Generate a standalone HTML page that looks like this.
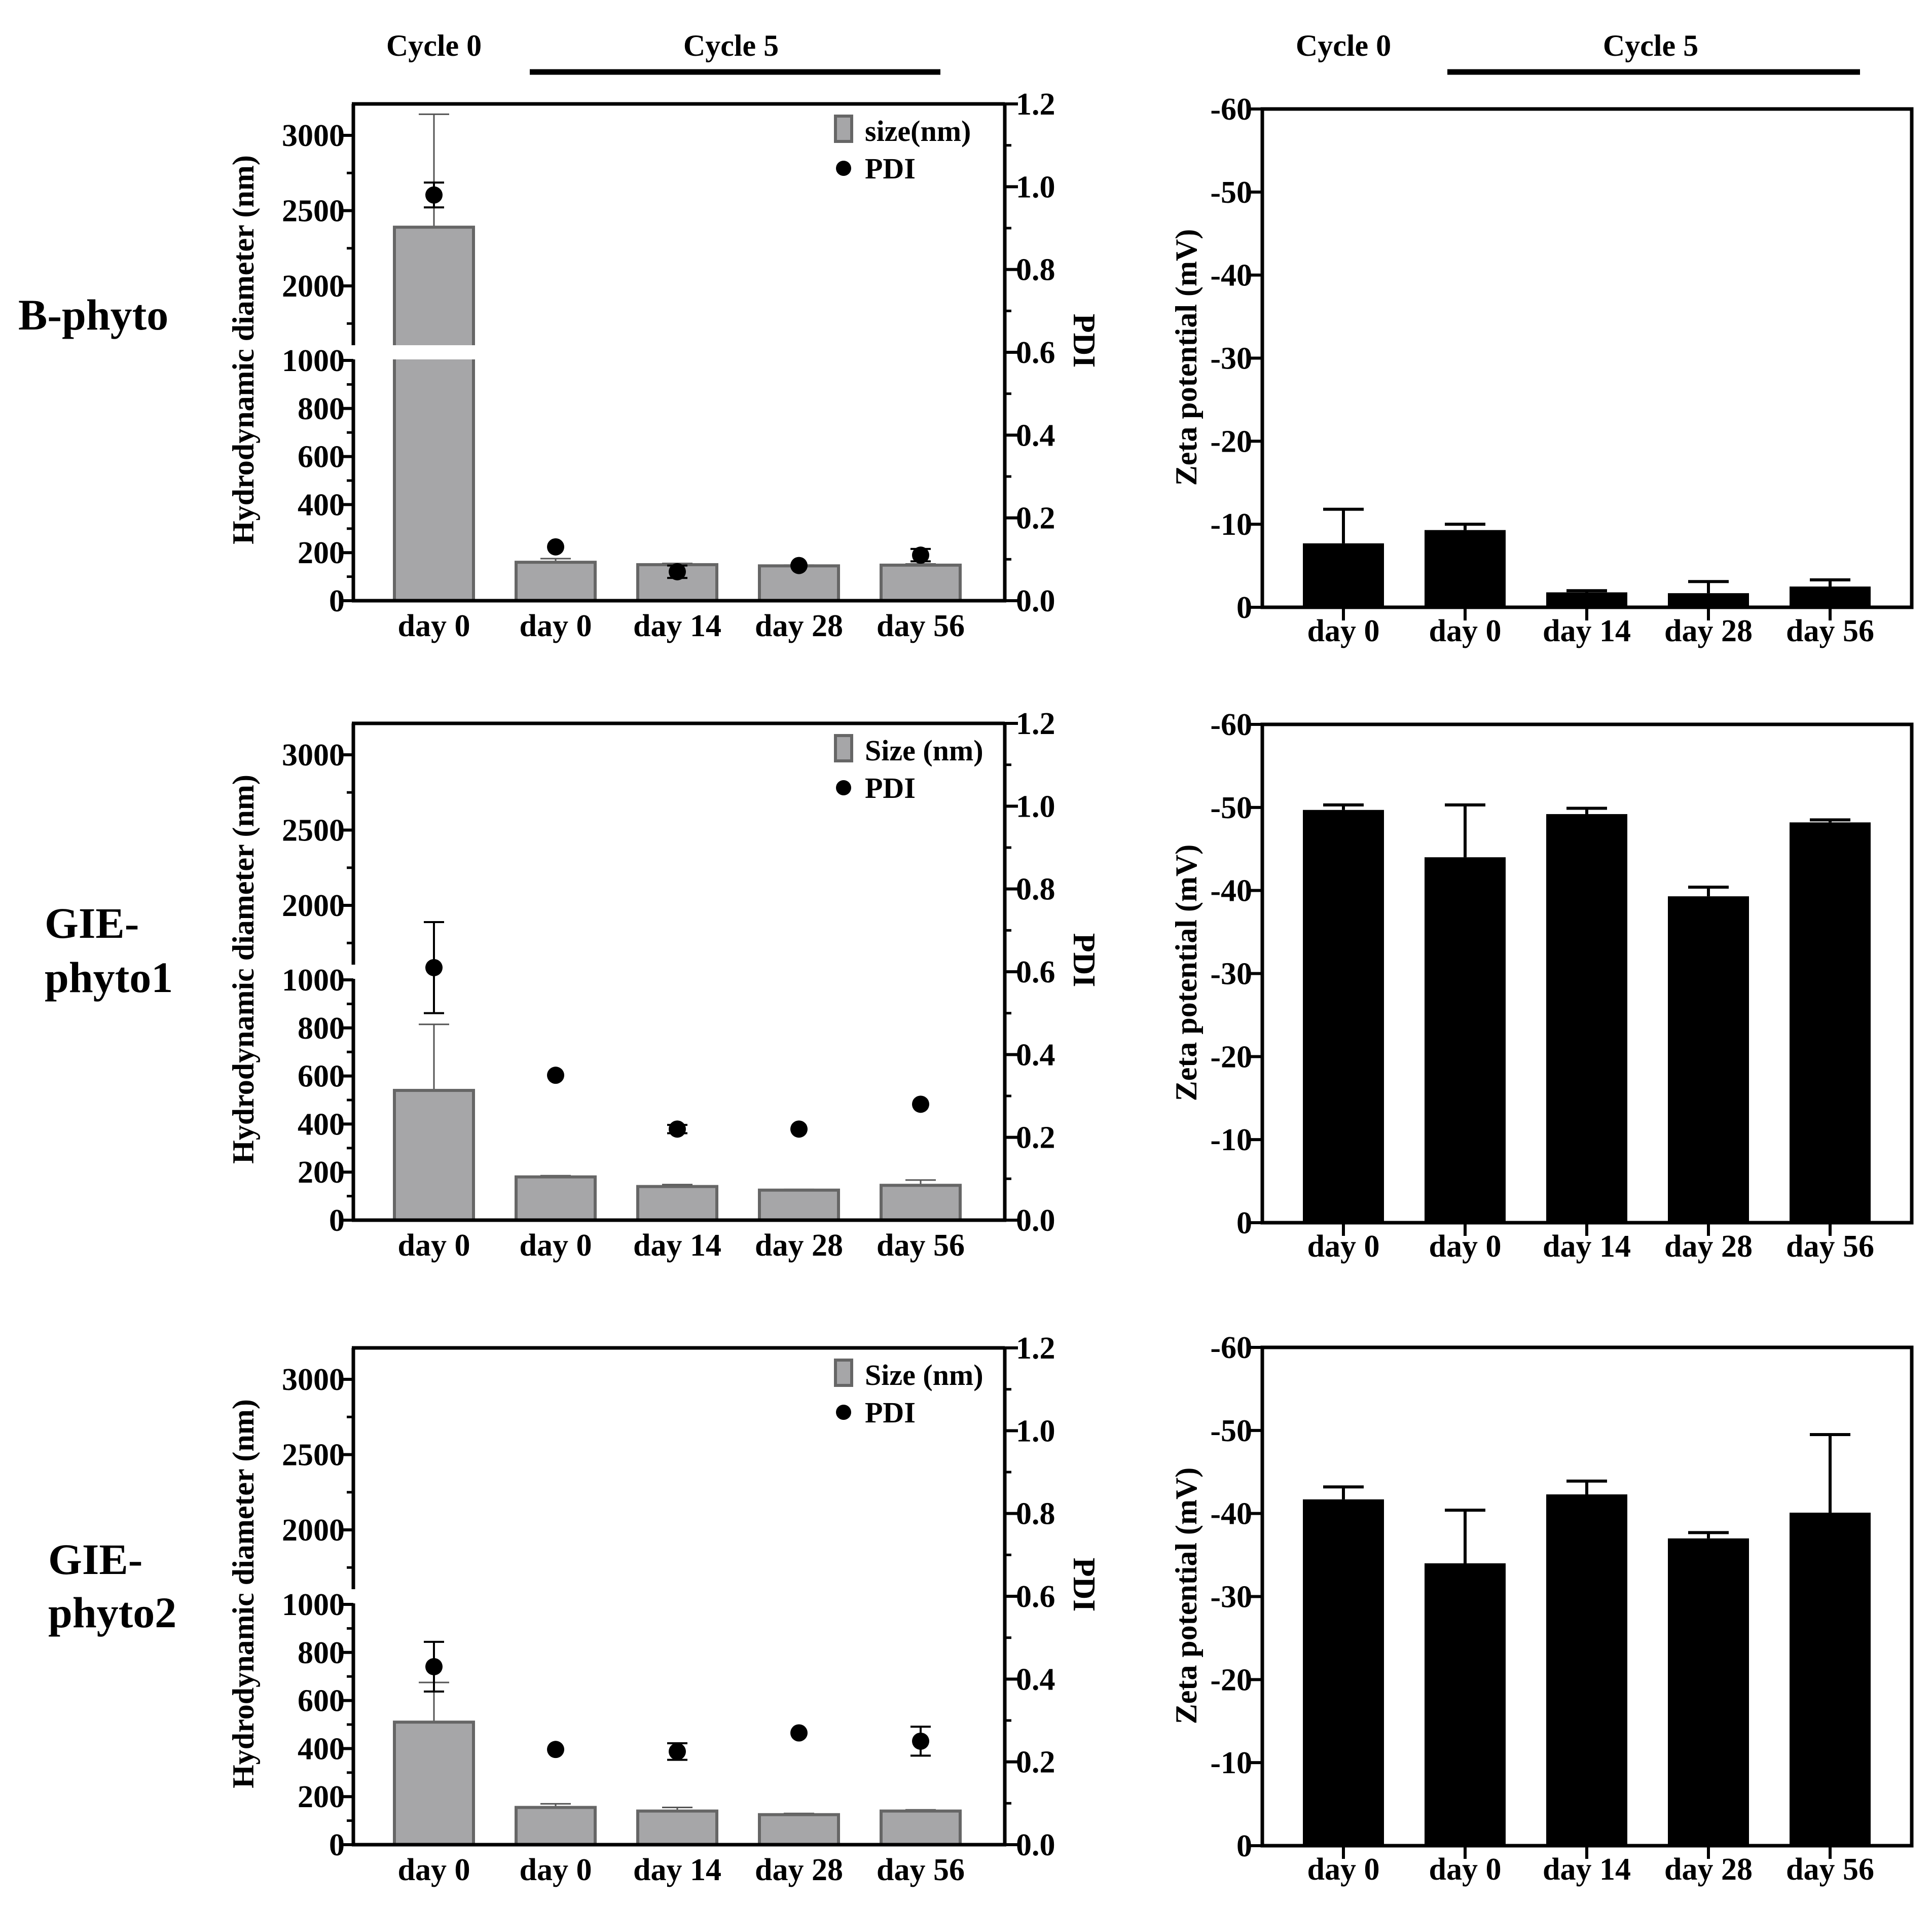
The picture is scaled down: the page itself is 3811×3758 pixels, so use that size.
<!DOCTYPE html>
<html><head><meta charset="utf-8"><style>
html,body{margin:0;padding:0;background:#fff}
svg{display:block}
text{font-family:"Liberation Serif",serif;font-weight:bold;fill:#000}
</style></head><body>
<svg id="fig" width="3811" height="3758" viewBox="0 0 3811 3758" xmlns="http://www.w3.org/2000/svg"></svg>
<script>
const categories = ["day 0","day 0","day 14","day 28","day 56"];
const rowNames = [["B-phyto"],["GIE-","phyto1"],["GIE-","phyto2"]];
const legendSize = ["size(nm)","Size (nm)","Size (nm)"];
const sizeVals = [[2390,160,150,145,148],[540,180,140,125,145],[510,155,140,125,140]];
const sizeErr = [[750,15,5,3,5],[275,5,8,3,22],[165,15,15,5,5]];
const pdiVals = [[0.98,0.13,0.07,0.085,0.11],[0.61,0.35,0.22,0.22,0.28],[0.43,0.23,0.225,0.27,0.25]];
const pdiErr = [[0.03,0,0.015,0,0.015],[0.11,0,0.01,0,0],[0.06,0,0.02,0,0.035]];
const zetaVals = [[7.7,9.3,1.8,1.7,2.5],[49.7,44,49.2,39.3,48.2],[41.7,34,42.3,37,40.1]];
const zetaErr = [[4.1,0.7,0.2,1.4,0.8],[0.6,6.3,0.7,1.1,0.3],[1.5,6.4,1.6,0.7,9.4]];
const lowTicks = [0,200,400,600,800,1000];
const highTicks = [2000,2500,3000];
const pdiTicks = [0,0.2,0.4,0.6,0.8,1.0,1.2];
const zetaTicks = [0,-10,-20,-30,-40,-50,-60];

const svg = document.getElementById('fig');
const NS = "http://www.w3.org/2000/svg";
function mk(tag, attrs, parent, txt){
  const e = document.createElementNS(NS, tag);
  for (const k in attrs) e.setAttribute(k, attrs[k]);
  if (txt !== undefined) e.textContent = txt;
  (parent||svg).appendChild(e);
  return e;
}
function line(x1,y1,x2,y2,stroke,w,p){return mk('line',{x1,y1,x2,y2,stroke,'stroke-width':w},p);}

const hdr = mk('g',{});


[[856,'Cycle 0'],[1442,'Cycle 5'],[2650,'Cycle 0'],[3256,'Cycle 5']].forEach(([x,t])=>{
  const e = mk('text',{x,y:110,'font-size':60,'text-anchor':'middle'},hdr,t);
  
  
});
line(1045,142,1855,142,'#000',11,hdr);
line(2855,142,3669,142,'#000',11,hdr);

const lDy = [0,1222,2454], rDy = [0,1214,2443];
for (let r=0;r<3;r++){
  const lab = mk('g',{});
  
  
  rowNames[r].forEach((t,i)=>{
    const x = r===0?36:(r===1?88:95);
    const yy = r===0?650:[[0,0],[1850,1957],[3105,3210]][r][i];
    mk('text',{x,y:yy,'font-size':86},lab,t);
  });

  const dy = lDy[r];
  const g = mk('g',{transform:`translate(0,${dy})`});
  
  
  const L=697, R=1982, T=205, B=1185, breakTop=681, breakBot=709;
  const ys = v => v<=1000 ? B - v*0.474 : 564 - (v-2000)*0.297;
  const yp = v => B - v*(B-T)/1.2;
  const xc = i => 856 + i*240;
  for (let i=0;i<5;i++){
    const v=sizeVals[r][i], e=sizeErr[r][i];
    const x=xc(i);
    const er = mk('g',{},g);
    
    
    line(x,ys(v+e),x,ys(Math.max(v-e,0)),'#555',3,er);
    line(x-30,ys(v+e),x+30,ys(v+e),'#555',3,er);
    if (e>20) line(x-30,ys(v-e),x+30,ys(v-e),'#555',3,er);
    const b = mk('rect',{x:x-78,y:ys(v),width:156,height:B-ys(v),fill:'#a6a6a8',stroke:'#666',"stroke-width":6},g);
    
    
    if (v>1000){ mk('rect',{x:x-85,y:breakTop,width:170,height:breakBot-breakTop,fill:'#fff'},g); }
  }
  for (let i=0;i<5;i++){
    const v=pdiVals[r][i], e=pdiErr[r][i], x=xc(i);
    if (e>0){
      line(x,yp(v+e),x,yp(v-e),'#000',4,g);
      line(x-20,yp(v+e),x+20,yp(v+e),'#000',4,g);
      line(x-20,yp(v-e),x+20,yp(v-e),'#000',4,g);
    }
    const c = mk('circle',{cx:x,cy:yp(v),r:17,fill:'#000'},g);
    
    
  }
  const ax = mk('g',{},g);
  
  
  line(L,T,L,breakTop,'#000',7,ax);
  line(L,breakBot,L,B+3,'#000',7,ax);
  line(L-3,T,R,T,'#000',7,g);
  line(L-3,B,R+3,B,'#000',7,g);
  line(R,T-3,R,B,'#000',7,g);
  lowTicks.forEach(v=>{line(L-26,ys(v),L,ys(v),'#000',6,ax);
    mk('text',{x:680,y:ys(v)+21,'font-size':62,'text-anchor':'end'},ax,String(v));});
  for (let v=100;v<1000;v+=200) line(L-13,ys(v),L,ys(v),'#000',5,ax);
  highTicks.forEach(v=>{line(L-26,ys(v),L,ys(v),'#000',6,ax);
    mk('text',{x:680,y:ys(v)+21,'font-size':62,'text-anchor':'end'},ax,String(v));});
  [1750,2250,2750,3225].forEach(v=>{ if(ys(v)>T) line(L-13,ys(v),L,ys(v),'#000',5,ax);});
  const ra = mk('g',{},g);
  
  
  pdiTicks.forEach(v=>{line(R,yp(v),R+26,yp(v),'#000',6,ra);
    mk('text',{x:2004,y:yp(v)+21,'font-size':62},ra,v.toFixed(1));});
  for (let v=0.1;v<1.2;v+=0.2) line(R,yp(v),R+13,yp(v),'#000',5,ra);
  categories.forEach((c,i)=>{const t=mk('text',{x:xc(i),y:1255,'font-size':62,'text-anchor':'middle'},g,c);
    
    });
  const yt = mk('text',{x:0,y:0,'font-size':60,'text-anchor':'middle',transform:'translate(500,690) rotate(-90)'},g,'Hydrodynamic diameter (nm)');
  
  
  const pt = mk('text',{x:0,y:0,'font-size':62,'text-anchor':'middle',transform:'translate(2118,672) rotate(90)'},g,'PDI');
  
  
  const lg = mk('g',{},g);
  
  
  mk('rect',{x:1648,y:229,width:32,height:50,fill:'#a6a6a8',stroke:'#666','stroke-width':6},lg);
  mk('text',{x:1706,y:278,'font-size':58},lg,legendSize[r]);
  mk('circle',{cx:1664,cy:332,r:15,fill:'#000'},lg);
  mk('text',{x:1706,y:352,'font-size':58},lg,'PDI');

  const dz = rDy[r];
  const z = mk('g',{transform:`translate(0,${dz})`});
  
  
  const ZL=2490, ZR=3771, ZT=215, ZB=1198;
  const yz = v => ZB - v*(ZB-ZT)/60;
  const xz = i => 2650 + i*240;
  for (let i=0;i<5;i++){
    const v=zetaVals[r][i], e=zetaErr[r][i], x=xz(i);
    line(x,yz(v),x,yz(v+e),'#000',6,z);
    line(x-40,yz(v+e),x+40,yz(v+e),'#000',6,z);
    const b = mk('rect',{x:x-80,y:yz(v),width:160,height:ZB-yz(v),fill:'#000'},z);
    
    
    line(x,ZB,x,ZB+26,'#000',6,z);
  }
  mk('rect',{x:ZL,y:ZT,width:ZR-ZL,height:ZB-ZT,fill:'none',stroke:'#000','stroke-width':7},z);
  const za = mk('g',{},z);
  
  
  zetaTicks.forEach(v=>{line(ZL-26,yz(-v),ZL,yz(-v),'#000',6,za);
    mk('text',{x:2470,y:yz(-v)+21,'font-size':62,'text-anchor':'end'},za,String(v));});
  categories.forEach((c,i)=>{const t=mk('text',{x:xz(i),y:1265,'font-size':62,'text-anchor':'middle'},z,c);
    
    });
  const zt = mk('text',{x:0,y:0,'font-size':60,'text-anchor':'middle',transform:'translate(2360,705) rotate(-90)'},z,'Zeta potential (mV)');
  
  
}
</script>
</body></html>
